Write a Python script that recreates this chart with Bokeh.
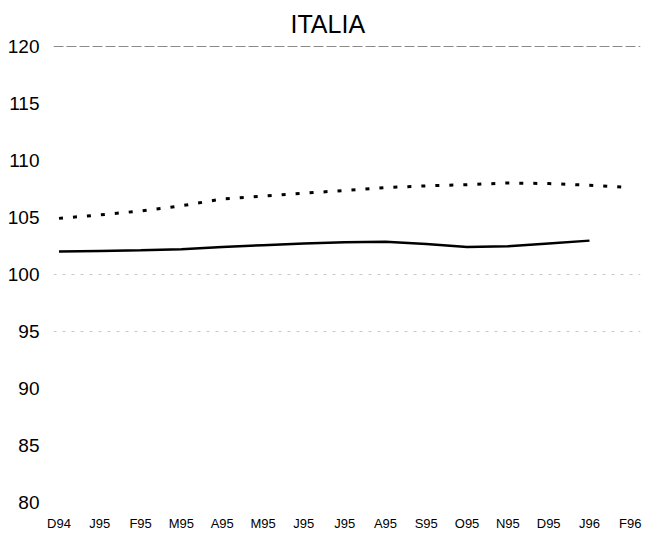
from bokeh.plotting import figure
from bokeh.models import FixedTicker, Grid, Range1d, ColumnDataSource
from bokeh.embed import file_html
from bokeh.resources import INLINE

months = ["D94", "J95", "F95", "M95", "A95", "M95", "J95", "J95", "A95",
          "S95", "O95", "N95", "D95", "J96", "F96"]
series_dashed = [104.9, 105.2, 105.55, 106.0, 106.6, 106.85, 107.1, 107.35, 107.6,
                 107.75, 107.85, 108.0, 107.95, 107.8, 107.6]
series_solid = [102.0, 102.05, 102.1, 102.2, 102.4, 102.55, 102.7, 102.8, 102.85,
                102.65, 102.4, 102.45, 102.7, 102.95]
y_ticks = [80, 85, 90, 95, 100, 105, 110, 115, 120]

FONT = "Liberation Sans"

p = figure(frame_width=587, frame_height=457, output_backend="svg",
           toolbar_location=None, min_border_left=53, min_border_right=14,
           min_border_top=45, min_border_bottom=28,
           x_range=Range1d(-0.135, 14.25), y_range=Range1d(80, 120.05))
p.outline_line_color = None
p.background_fill_color = "white"

p.title.text = "ITALIA"
p.title.text_font = FONT
p.title.text_font_size = "25px"
p.title.text_font_style = "normal"
p.title.text_color = "black"
p.title.align = "left"
p.title.offset = 237
p.title.standoff = 15

p.xgrid.visible = False
p.ygrid.visible = False

light = Grid(dimension=1, ticker=FixedTicker(ticks=[95, 100]),
             grid_line_color="#c8c8c8", grid_line_dash="3 6", grid_line_width=1)
top = Grid(dimension=1, ticker=FixedTicker(ticks=[120]),
           grid_line_color="#8a8a8a", grid_line_dash="10 3", grid_line_width=1)
p.add_layout(light)
p.add_layout(top)

p.yaxis.ticker = FixedTicker(ticks=y_ticks)
p.yaxis.axis_line_color = None
p.yaxis.major_tick_line_color = None
p.yaxis.minor_tick_line_color = None
p.yaxis.major_label_text_font = FONT
p.yaxis.major_label_text_font_size = "19px"
p.yaxis.major_label_text_color = "black"
p.yaxis.major_label_standoff = 8

p.xaxis.ticker = FixedTicker(ticks=list(range(len(months))))
p.xaxis.major_label_overrides = {i: m for i, m in enumerate(months)}
p.xaxis.axis_line_color = None
p.xaxis.major_tick_line_color = None
p.xaxis.minor_tick_line_color = None
p.xaxis.major_label_text_font = FONT
p.xaxis.major_label_text_font_size = "13px"
p.xaxis.major_label_text_color = "black"
p.xaxis.major_label_standoff = 7

src_d = ColumnDataSource(dict(x=list(range(len(series_dashed))), y=series_dashed))
src_s = ColumnDataSource(dict(x=list(range(len(series_solid))), y=series_solid))
p.line("x", "y", source=src_d, line_color="black", line_width=3, line_dash="4 10")
p.line("x", "y", source=src_s, line_color="black", line_width=2.5)

open("out.html", "w").write(file_html(p, INLINE))
